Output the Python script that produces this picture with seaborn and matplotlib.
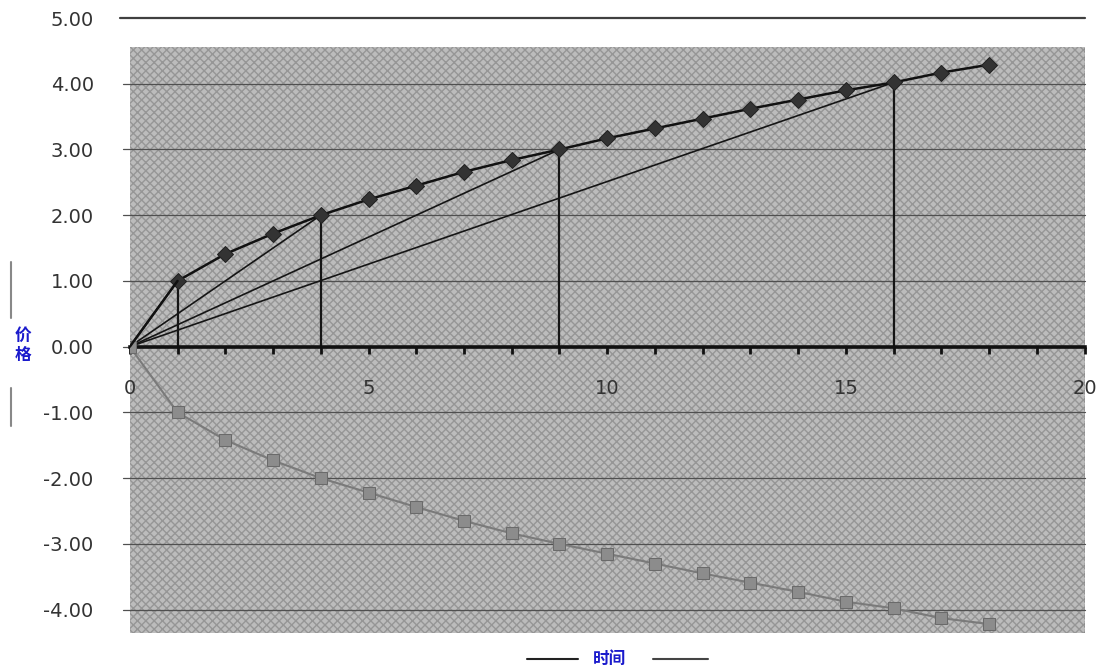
import pandas as pd
import seaborn as sns
import matplotlib.pyplot as plt
import matplotlib.ticker as ticker
from matplotlib.patches import Rectangle
from matplotlib.lines import Line2D

# Values
t = list(range(19))
upper = [0.00, 1.00, 1.41, 1.72, 2.00, 2.24, 2.45, 2.66, 2.84, 3.00, 3.17,
         3.32, 3.47, 3.62, 3.76, 3.90, 4.02, 4.17, 4.29]
lower = [0.00, -1.00, -1.42, -1.73, -2.00, -2.22, -2.44, -2.65, -2.84, -3.00,
         -3.15, -3.30, -3.45, -3.59, -3.73, -3.88, -3.98, -4.13, -4.22]
marked_t = [1, 4, 9, 16]
y_ticks = [-4, -3, -2, -1, 0, 1, 2, 3, 4, 5]
x_ticks = [0, 5, 10, 15, 20]
y_label = '价\n格'
x_label = '时间'

df = pd.DataFrame({'t': t, 'upper': upper, 'lower': lower})

sns.set_style('white')
plt.rcParams['font.family'] = ['DejaVu Sans', 'Noto Sans CJK SC']
plt.rcParams['axes.unicode_minus'] = False

fig = plt.figure(figsize=(11, 6.68), dpi=100)
ax = fig.add_axes([0.118, 0.052, 0.868, 0.921])
ax.set_xlim(0, 20)
ax.set_ylim(-4.36, 5.0)

# grey textured plot area
ax.add_patch(Rectangle((0, -4.36), 20, 8.92, facecolor='#bcbcbc',
                       edgecolor='#969696', hatch='xxxx', lw=0, zorder=0))
ax.plot([20, 20], [-4.36, 4.56], color='#555555', lw=1, ls=(0, (1, 1)), zorder=1)

# gridlines
for y in y_ticks[:-1]:
    ax.plot([-0.15, 20], [y, y], color='#505050', lw=0.9, zorder=1, clip_on=False)
ax.plot([-0.2, 20], [5, 5], color='#404040', lw=1.6, zorder=1, clip_on=False)

# chords and verticals
for m in marked_t:
    ax.plot([0, m], [0, upper[m]], color='#151515', lw=1.2, zorder=2)
    ax.plot([m, m], [0, upper[m]], color='#151515', lw=1.6, zorder=2)

sns.lineplot(data=df, x='t', y='lower', ax=ax, color='#7a7a7a', lw=1.5,
             marker='s', markersize=9, markeredgecolor='#6a6a6a',
             markerfacecolor='#8c8c8c', zorder=3)
sns.lineplot(data=df[df['t'] > 0], x='t', y='upper', ax=ax, color='#111111', lw=1.8,
             marker='D', markersize=8.5, markeredgecolor='#222222',
             markerfacecolor='#333333', zorder=4)
ax.plot([0, 1], [0, upper[1]], color='#111111', lw=1.8, zorder=4)

# axes styling
for s in ['top', 'right', 'left']:
    ax.spines[s].set_visible(False)
ax.spines['bottom'].set_position(('data', 0))
ax.spines['bottom'].set_linewidth(2.6)
ax.spines['bottom'].set_color('#111111')
ax.spines['bottom'].set_zorder(2.5)

ax.set_xticks(x_ticks)
ax.xaxis.set_minor_locator(ticker.MultipleLocator(1))
ax.tick_params(axis='x', which='both', bottom=True, direction='out', length=5,
               width=2, color='#111111', pad=18, labelsize=14, labelcolor='#333333')
ax.set_yticks(y_ticks)
ax.yaxis.set_major_formatter(ticker.FuncFormatter(lambda v, _: f'{v:.2f}'))
ax.tick_params(axis='y', direction='out', length=0, pad=26, labelsize=14,
               labelcolor='#333333')
for lab in ax.get_xticklabels():
    lab.set_zorder(5)
ax.set_xlabel('')
ax.set_ylabel('')

# axis titles with their bracket lines
fig.text(0.021, 0.483, y_label, color='#1a1acc', fontsize=12, fontweight='bold',
         ha='center', va='center', family=['Noto Sans CJK SC', 'DejaVu Sans'],
         linespacing=1.1)
fig.add_artist(Line2D([0.01, 0.01], [1 - 262 / 668, 1 - 318 / 668],
                      color='#888888', lw=1.5))
fig.add_artist(Line2D([0.01, 0.01], [1 - 388 / 668, 1 - 426 / 668],
                      color='#888888', lw=1.5))
fig.text(609 / 1100, 1 - 659 / 668, x_label, color='#1a1acc', fontsize=12,
         fontweight='bold', ha='center', va='center',
         family=['Noto Sans CJK SC', 'DejaVu Sans'])
fig.add_artist(Line2D([527 / 1100, 578 / 1100], [1 - 659 / 668] * 2,
                      color='#222222', lw=1.5))
fig.add_artist(Line2D([653 / 1100, 708 / 1100], [1 - 659 / 668] * 2,
                      color='#444444', lw=1.5))

fig.savefig('out.png', dpi=100)
